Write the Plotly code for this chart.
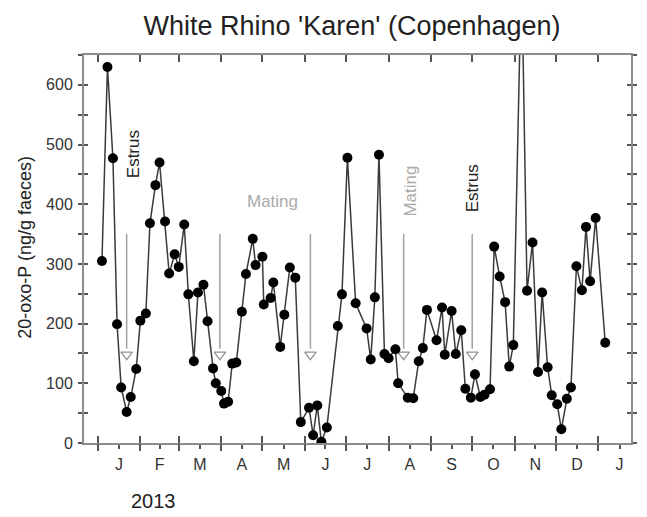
import pandas as pd
import plotly.graph_objects as go

# ---------------- data ----------------
sample_dates = [
    "2013-01-04", "2013-01-08", "2013-01-12", "2013-01-15", "2013-01-18", "2013-01-22", "2013-01-25", "2013-01-29",
    "2013-02-01", "2013-02-05", "2013-02-08", "2013-02-12", "2013-02-15", "2013-02-19", "2013-02-22", "2013-02-26",
    "2013-03-01", "2013-03-05", "2013-03-08", "2013-03-12", "2013-03-15", "2013-03-19", "2013-03-22", "2013-03-26", "2013-03-28",
    "2013-04-01", "2013-04-03", "2013-04-06", "2013-04-09", "2013-04-12", "2013-04-16", "2013-04-19", "2013-04-24", "2013-04-26",
    "2013-05-01", "2013-05-02", "2013-05-07", "2013-05-09", "2013-05-14", "2013-05-17", "2013-05-21", "2013-05-25", "2013-05-29",
    "2013-06-04", "2013-06-07", "2013-06-10", "2013-06-13", "2013-06-17", "2013-06-25", "2013-06-28",
    "2013-07-02", "2013-07-08", "2013-07-16", "2013-07-19", "2013-07-22", "2013-07-25", "2013-07-29",
    "2013-08-01", "2013-08-06", "2013-08-08", "2013-08-15", "2013-08-19", "2013-08-23", "2013-08-26", "2013-08-29",
    "2013-09-05", "2013-09-09", "2013-09-11", "2013-09-16", "2013-09-19", "2013-09-23", "2013-09-26", "2013-09-30",
    "2013-10-03", "2013-10-07", "2013-10-10", "2013-10-14", "2013-10-17", "2013-10-21", "2013-10-25", "2013-10-28", "2013-10-31",
    "2013-11-06", "2013-11-10", "2013-11-14", "2013-11-18", "2013-11-21", "2013-11-25", "2013-11-28",
    "2013-12-02", "2013-12-05", "2013-12-09", "2013-12-12", "2013-12-16", "2013-12-20", "2013-12-23", "2013-12-26", "2013-12-30",
    "2014-01-06",
]
oxo_p = [
    305, 630, 477, 199, 93, 52, 77, 124,
    205, 217, 368, 432, 470, 371, 284, 316,
    295, 366, 249, 137, 252, 265, 204, 125, 100,
    87, 66, 69, 133, 135, 220, 283, 342, 298,
    312, 232, 243, 269, 161, 215, 294, 277, 35,
    59, 13, 63, 2, 26, 196, 249,
    478, 234, 192, 140, 244, 483, 149,
    142, 157, 100, 76, 75, 137, 159, 223,
    172, 227, 148, 221, 149, 189, 91, 76,
    115, 77, 81, 90, 329, 279, 236, 128, 164,
    800, 255, 336, 119, 252, 127, 80,
    65, 23, 74, 93, 296, 256, 362, 271, 377,
    168,
]

event_dates = ["2013-01-22", "2013-03-31", "2013-06-05", "2013-08-12", "2013-10-01"]
arrow_top = 350
arrow_tip = 158
arrow_head = 148

labels = ["Estrus", "Mating", "Mating", "Estrus"]
label_dates = ["2013-01-27", "2013-05-08", "2013-08-17", "2013-10-01"]
label_values = [483, 405, 422, 427]
label_angles = [-90, 0, -90, -90]
label_colors = ["#222222", "#aaaaaa", "#aaaaaa", "#222222"]

month_letters = ["J", "F", "M", "A", "M", "J", "J", "A", "S", "O", "N", "D", "J"]
y_ticks = [0, 100, 200, 300, 400, 500, 600]

# ---------------- derived ----------------
base = pd.Timestamp("2013-01-01")
month_starts = pd.date_range("2013-01-01", "2014-02-01", freq="MS")
mid_months = [month_starts[i] + (month_starts[i + 1] - month_starts[i]) / 2 for i in range(len(month_starts) - 1)]
x_range = [base + pd.Timedelta(days=-10.1), base + pd.Timedelta(days=388.8)]

FONT = "Liberation Sans, Arial, sans-serif"
W, H = 647, 517
L, R, T, B = 84, 637, 55, 442.7


def px_x(p):
    return (p - L) / (R - L)


def px_y(p):
    return (B - p) / (B - T)


fig = go.Figure()

# event arrows
for d in event_dates:
    fig.add_trace(go.Scatter(x=[d, d], y=[arrow_top, arrow_tip], mode="lines",
                             line=dict(color="#a0a0a0", width=1.5), hoverinfo="skip", showlegend=False))
fig.add_trace(go.Scatter(x=event_dates, y=[arrow_head] * len(event_dates), mode="markers",
                         marker=dict(symbol="triangle-down-open", size=10, color="#909090",
                                     line=dict(width=1.2, color="#909090")),
                         hoverinfo="skip", showlegend=False))

# data
fig.add_trace(go.Scatter(x=sample_dates, y=oxo_p, mode="lines+markers",
                         line=dict(color="#3a3a3a", width=1.5),
                         marker=dict(color="#000000", size=10),
                         showlegend=False))

# dummy traces for tick overlay axes
fig.add_trace(go.Scatter(x=[], y=[], xaxis="x2", yaxis="y", showlegend=False))
fig.add_trace(go.Scatter(x=[], y=[], xaxis="x3", yaxis="y", showlegend=False))
fig.add_trace(go.Scatter(x=[], y=[], xaxis="x", yaxis="y2", showlegend=False))

for txt, d, v, ang, col in zip(labels, label_dates, label_values, label_angles, label_colors):
    fig.add_annotation(x=d, y=v, text=txt, textangle=ang, showarrow=False,
                       font=dict(family=FONT, size=17, color=col), xanchor="center", yanchor="middle")

fig.add_annotation(x=px_x(25), y=px_y(247), xref="paper", yref="paper", text="20-oxo-P (ng/g faeces)",
                   textangle=-90, showarrow=False, font=dict(family=FONT, size=18, color="#222222"),
                   xanchor="center", yanchor="middle")
fig.add_annotation(x=px_x(154), y=px_y(501), xref="paper", yref="paper", text="2013",
                   showarrow=False, font=dict(family=FONT, size=20, color="#222222"),
                   xanchor="center", yanchor="middle")

AXC = "#8c8c8c"
TKC = "#555555"

fig.update_layout(
    width=W, height=H,
    margin=dict(l=L, r=W - R, t=T, b=H - B, pad=0),
    paper_bgcolor="white", plot_bgcolor="white",
    title=dict(text="White Rhino 'Karen' (Copenhagen)", x=352 / W, xanchor="center",
               y=1 - 26 / H, yanchor="middle", yref="container",
               font=dict(family=FONT, size=27, color="#222222")),
    xaxis=dict(type="date", range=x_range, tickmode="array", tickvals=mid_months, ticktext=month_letters,
               ticks="outside", ticklen=4, tickwidth=1.5, tickcolor=TKC,
               showline=True, linecolor=AXC, linewidth=2, mirror=True, showgrid=False, zeroline=False,
               tickfont=dict(family=FONT, size=16, color="#333333"), ticklabelstandoff=2),
    xaxis2=dict(type="date", overlaying="x", matches="x", anchor="y", tickmode="array", tickvals=month_starts[:-1],
                ticks="outside", ticklen=7, tickwidth=2, tickcolor=TKC, showticklabels=False,
                showline=False, showgrid=False, zeroline=False),
    xaxis3=dict(type="date", overlaying="x", matches="x", anchor="y", tickmode="array", tickvals=month_starts[:-1],
                ticks="inside", ticklen=7, tickwidth=2, tickcolor=TKC, showticklabels=False, mirror="ticks",
                showline=False, showgrid=False, zeroline=False),
    yaxis=dict(range=[0, 650], tickmode="array", tickvals=y_ticks,
               ticks="outside", ticklen=4, tickwidth=1.5, tickcolor=TKC,
               minor=dict(tickmode="linear", tick0=50, dtick=100, ticks="outside", ticklen=4, tickwidth=1.5, tickcolor=TKC),
               showline=True, linecolor=AXC, linewidth=2, mirror="allticks", showgrid=False, zeroline=False,
               tickfont=dict(family=FONT, size=16, color="#333333"), ticklabelstandoff=2),
    yaxis2=dict(overlaying="y", matches="y", anchor="x", tickmode="linear", tick0=0, dtick=50,
                ticks="inside", ticklen=4, tickwidth=1.5, tickcolor=TKC, showticklabels=False, mirror="allticks",
                showline=False, showgrid=False, zeroline=False),
)

fig.write_html("out.html")
